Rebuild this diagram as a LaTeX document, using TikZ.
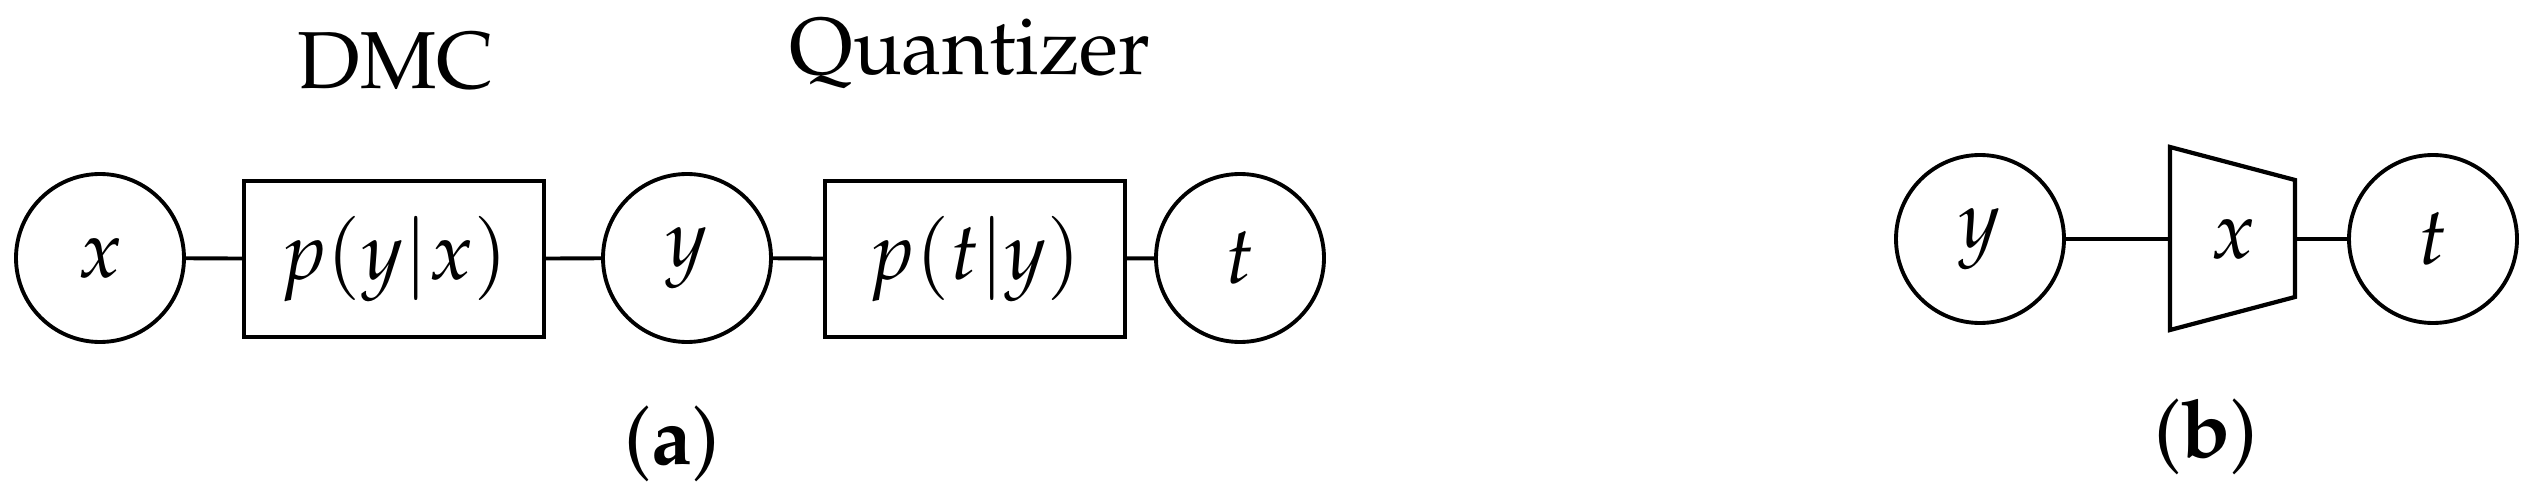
\documentclass[tikz,border=0pt]{standalone}
\usepackage[T1]{fontenc}
\usepackage{mathpazo}
\begin{document}
\begin{tikzpicture}[
  every node/.style={font=\fontsize{23}{28}\selectfont},
  var/.style={circle,draw,line width=1.1pt,minimum size=1.68cm,inner sep=0pt},
  chan/.style={rectangle,draw,line width=1.2pt,minimum width=3.0cm,minimum height=1.56cm,inner sep=0pt},
  conn/.style={line width=1.1pt}
]
\useasboundingbox (0,0) rectangle (25.31,5.02);
% (a)
\node[var] (x) at (1.00,2.44) {$x$};
\node[chan] (dmc) at (3.94,2.43) {$p(y|x)$};
\node[var] (y) at (6.87,2.44) {$y$};
\node[chan] (qz) at (9.75,2.43) {$p(t|y)$};
\node[var] (t) at (12.40,2.44) {$t$};
\node[anchor=base] (dmclab) at (3.96,4.13) {DMC};
\node[anchor=base] (qlab) at (9.70,4.27) {Quantizer};
\node (la) at (6.72,0.58) {(\textbf{a})};
\draw[conn] (x) -- (dmc);
\draw[conn] (dmc) -- (y);
\draw[conn] (y) -- (qz);
\draw[conn] (qz) -- (t);
% (b)
\node[var] (y2) at (19.80,2.63) {$y$};
\draw[line width=1.2pt] (21.70,3.55) -- (22.95,3.22) -- (22.95,2.05) -- (21.70,1.72) -- cycle;
\coordinate (qL) at (21.70,2.63);
\coordinate (qR) at (22.95,2.63);
\node (q) at (22.33,2.63) {$x$};
\node[var] (t2) at (24.33,2.63) {$t$};
\node (lb) at (22.06,0.65) {(\textbf{b})};
\draw[conn] (y2) -- (qL);
\draw[conn] (qR) -- (t2);
\end{tikzpicture}
\end{document}
